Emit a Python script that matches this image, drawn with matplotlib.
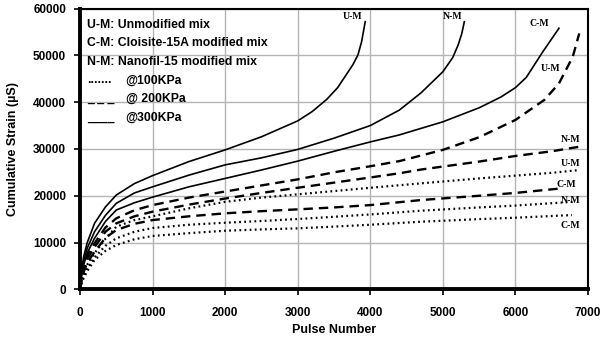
import matplotlib
matplotlib.use("Agg")
import matplotlib.pyplot as plt

# ---- data ----
um300_x = [0, 25, 50, 100, 200, 350, 500, 750, 1000, 1500, 2000, 2500, 3000, 3200, 3400, 3550, 3670, 3760, 3830, 3880, 3930]
um300_y = [0, 4500, 7000, 10000, 14100, 17600, 20150, 22600, 24300, 27300, 29800, 32600, 36000, 38000, 40600, 43100, 45900, 48000, 50100, 52900, 57200]

nm300_x = [0, 25, 50, 100, 200, 350, 500, 750, 1000, 1500, 2000, 2500, 3000, 3500, 4000, 4400, 4700, 5000, 5135, 5210, 5260, 5296]
nm300_y = [0, 3800, 6000, 8800, 12300, 15800, 18380, 20600, 21900, 24400, 26600, 28100, 29900, 32300, 35000, 38300, 42000, 46500, 49500, 52200, 54600, 57200]

cm300_x = [0, 25, 50, 100, 200, 350, 500, 750, 1000, 1500, 2000, 2500, 3000, 3500, 4000, 4400, 5000, 5500, 5800, 6000, 6150, 6370, 6600]
cm300_y = [0, 3200, 5200, 7800, 10900, 14500, 16950, 18500, 19700, 21900, 23700, 25500, 27400, 29500, 31500, 33000, 35800, 38800, 41100, 43100, 45300, 50600, 55800]

um200_x = [0, 25, 50, 100, 200, 350, 500, 750, 1000, 1500, 2000, 2500, 3000, 3500, 4000, 4400, 5000, 5500, 6000, 6400, 6600, 6790, 6880]
um200_y = [0, 2900, 4800, 7200, 9830, 13200, 15170, 16900, 18000, 19600, 20900, 22200, 23500, 25000, 26300, 27400, 29800, 32500, 36200, 40500, 44000, 49700, 54700]

nm200_x = [0, 25, 50, 100, 200, 350, 500, 750, 1000, 1500, 2000, 2500, 3000, 3500, 4000, 4400, 4700, 5500, 6000, 6500, 6880]
nm200_y = [0, 2700, 4400, 6500, 9000, 12300, 14100, 15600, 16600, 18100, 19400, 20600, 21700, 22800, 23900, 24800, 25600, 27300, 28500, 29500, 30470]

cm200_x = [0, 25, 50, 100, 200, 350, 500, 750, 1000, 1500, 2000, 2500, 3000, 3500, 4000, 4700, 5500, 6000, 6650]
cm200_y = [0, 2300, 3700, 5700, 8000, 11000, 12670, 14000, 14800, 15600, 16240, 16700, 17090, 17500, 18000, 19080, 20000, 20600, 21600]

um100_x = [0, 25, 50, 100, 200, 350, 500, 750, 1000, 1500, 2000, 2500, 3000, 3500, 4000, 4700, 5500, 6000, 6500, 6880]
um100_y = [0, 2100, 3400, 5300, 7700, 10800, 13380, 14800, 15600, 17300, 18700, 19600, 20300, 21000, 21700, 22650, 23700, 24300, 24900, 25490]

nm100_x = [0, 25, 50, 100, 200, 350, 500, 750, 1000, 1500, 2000, 2500, 3000, 3500, 4000, 4700, 5500, 6000, 6800]
nm100_y = [0, 1700, 2800, 4500, 6800, 9300, 10900, 12300, 13100, 13800, 14230, 14600, 15020, 15500, 16000, 16800, 17500, 17900, 18700]

cm100_x = [0, 25, 50, 100, 200, 350, 500, 750, 1000, 1500, 2000, 2500, 3000, 3500, 4000, 4700, 5500, 6000, 6780]
cm100_y = [0, 1400, 2400, 3900, 6260, 8200, 9470, 10700, 11400, 12000, 12520, 12800, 13030, 13400, 13800, 14450, 15000, 15300, 15870]

x_ticks = [0, 1000, 2000, 3000, 4000, 5000, 6000, 7000]
y_ticks = [0, 10000, 20000, 30000, 40000, 50000, 60000]

curve_labels = [
    ("U-M", 3760, 58300), ("N-M", 5135, 58400), ("C-M", 6327, 56840),
    ("U-M", 6488, 47220), ("N-M", 6763, 32050), ("U-M", 6763, 26920),
    ("C-M", 6700, 22500), ("N-M", 6763, 19080), ("C-M", 6763, 13740),
]

legend_lines = [
    "U-M: Unmodified mix",
    "C-M: Cloisite-15A modified mix",
    "N-M: Nanofil-15 modified mix",
]
legend_styles = [(".......", "@100KPa"), ("_ _ _", "@ 200KPa"), ("____", "@300KPa")]

# ---- figure ----
fig = plt.figure(figsize=(6.09, 3.44), dpi=100)
ax = fig.add_axes([0.1314, 0.159, 0.8341, 0.816])

solid_kw = dict(color="black", lw=1.2, ls="-")
dash_kw = dict(color="black", lw=1.7, ls=(0, (4, 2.5)))
dot_kw = dict(color="black", lw=1.6, ls=(0, (0.8, 1.5)))

ax.plot(um300_x, um300_y, **solid_kw)
ax.plot(nm300_x, nm300_y, **solid_kw)
ax.plot(cm300_x, cm300_y, **solid_kw)
ax.plot(um200_x, um200_y, **dash_kw)
ax.plot(nm200_x, nm200_y, **dash_kw)
ax.plot(cm200_x, cm200_y, **dash_kw)
ax.plot(um100_x, um100_y, **dot_kw)
ax.plot(nm100_x, nm100_y, **dot_kw)
ax.plot(cm100_x, cm100_y, **dot_kw)

ax.set_xlim(0, 7000)
ax.set_ylim(0, 60000)
ax.set_xticks(x_ticks)
ax.set_yticks(y_ticks)
ax.grid(True, color="#b4b4b4", lw=1.0)
ax.set_axisbelow(True)

for lab in ax.get_xticklabels() + ax.get_yticklabels():
    lab.set_fontfamily("Liberation Sans")
    lab.set_fontweight("bold")
    lab.set_fontsize(8.5)
ax.tick_params(direction="out", length=4, width=1.2)
ax.tick_params(axis="x", pad=9)
ax.tick_params(axis="y", pad=6)

ax.spines["left"].set_linewidth(2.8)
ax.spines["bottom"].set_linewidth(2.8)
ax.spines["top"].set_linewidth(1.5)
ax.spines["right"].set_linewidth(1.5)

ax.set_xlabel("Pulse Number", fontfamily="Liberation Sans", fontweight="bold", fontsize=9, labelpad=3)
ax.set_ylabel("Cumulative Strain (µS)", fontfamily="Liberation Sans", fontweight="bold", fontsize=9, labelpad=10)

for txt, x, y in curve_labels:
    ax.text(x, y, txt, fontfamily="Liberation Serif", fontweight="bold", fontsize=7,
            ha="center", va="center")

# legend made of text
y0 = 0.942
dy = 0.066
for i, line in enumerate(legend_lines):
    ax.text(0.014, y0 - i * dy, line, transform=ax.transAxes, fontfamily="Liberation Sans",
            fontweight="bold", fontsize=8.8, ha="left", va="center")
for j, (sym, lab) in enumerate(legend_styles):
    yy = y0 - (3 + j) * dy
    ax.text(0.014, yy, sym, transform=ax.transAxes, fontfamily="Liberation Sans",
            fontweight="bold", fontsize=8.8, ha="left", va="center")
    ax.text(0.09, yy, lab, transform=ax.transAxes, fontfamily="Liberation Sans",
            fontweight="bold", fontsize=8.8, ha="left", va="center")

fig.savefig("out.png", dpi=100)
